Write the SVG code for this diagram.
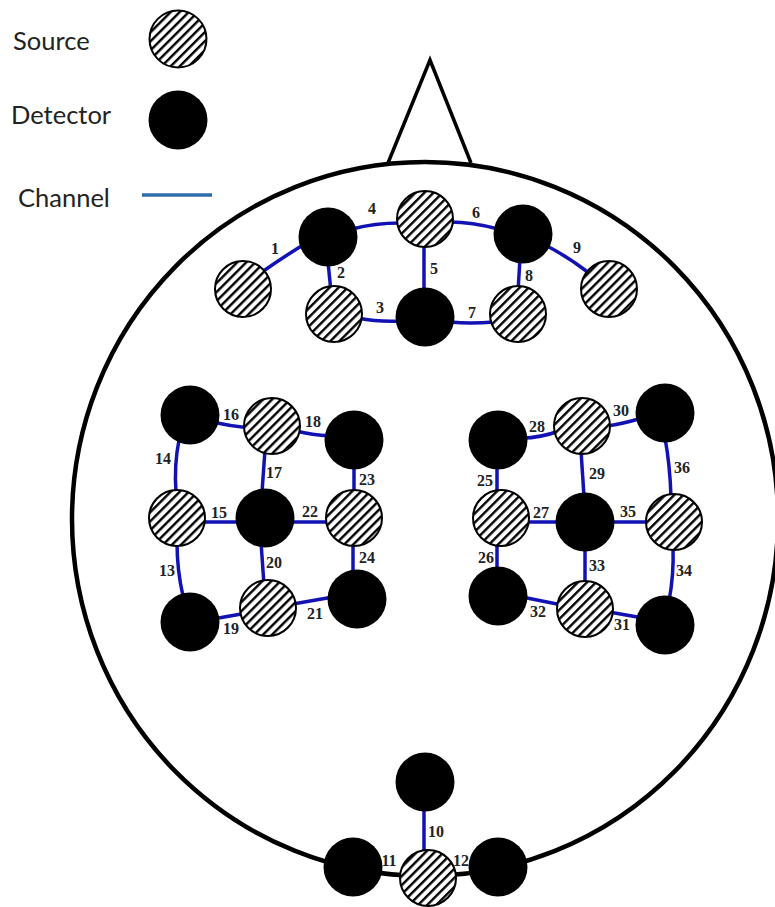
<svg xmlns="http://www.w3.org/2000/svg" width="775" height="907" viewBox="0 0 775 907">
<style>
.s{fill:url(#hatch);stroke:#000;stroke-width:2}
.d{fill:#000}
.c{fill:none;stroke:#1212b4;stroke-width:3.5}
.n{font:bold 16px "Liberation Serif",serif;fill:#222;text-anchor:middle}
.l{font:25.5px Lato,sans-serif;fill:#222}
.h{fill:none;stroke:#000;stroke-width:4.5}
.t{fill:none;stroke:#000;stroke-width:3.5}
</style>
<defs>
<pattern id="hatch" width="6.4" height="6.4" patternUnits="userSpaceOnUse" patternTransform="rotate(45)">
<rect width="6.4" height="6.4" fill="#fff"/>
<rect width="2.4" height="6.4" fill="#000"/>
</pattern>
</defs>
<rect width="775" height="907" fill="#fff"/>
<g id="head">
<ellipse class="h" cx="425" cy="519" rx="353" ry="357"/>
<path class="t" d="M388 163L430 60L471 163"/>
</g>
<g id="legend">
<text class="l" x="13" y="50">Source</text>
<text class="l" x="11" y="124">Detector</text>
<text class="l" x="18" y="207">Channel</text>
<circle class="s" cx="178" cy="39" r="28.5"/>
<circle class="d" cx="178" cy="120" r="29.5"/>
<line x1="142" y1="195" x2="212" y2="195" stroke="#2e6cab" stroke-width="3.5"/>
</g>
<g id="connectors">
<path class="c" d="M262 272Q282 258 303 245"/>
<path class="c" d="M328 262L331 292"/>
<path class="c" d="M358 318Q378 322 400 321"/>
<path class="c" d="M352 229Q375 223 400 223"/>
<path class="c" d="M424 240L424 295"/>
<path class="c" d="M450 222Q472 222 498 229"/>
<path class="c" d="M450 322Q470 324 494 322"/>
<path class="c" d="M520 258L518 292"/>
<path class="c" d="M545 245Q567 256 589 273"/>
<path class="c" d="M424 805L424 855"/>
<path class="c" d="M177 542Q177 570 183 596"/>
<path class="c" d="M179 440Q174 465 176 492"/>
<path class="c" d="M200 522L240 522"/>
<path class="c" d="M212 422Q230 426 250 428"/>
<path class="c" d="M265 450L262 492"/>
<path class="c" d="M296 431Q312 435 330 436"/>
<path class="c" d="M213 619L247 613"/>
<path class="c" d="M261 542L264 585"/>
<path class="c" d="M293 604L333 597"/>
<path class="c" d="M290 522L330 522"/>
<path class="c" d="M354 465L354 495"/>
<path class="c" d="M353 542L353 575"/>
<path class="c" d="M497 465L497 495"/>
<path class="c" d="M497 540L497 572"/>
<path class="c" d="M525 522L560 522"/>
<path class="c" d="M522 438Q540 438 559 431"/>
<path class="c" d="M581 450L584 497"/>
<path class="c" d="M607 426Q622 424 642 418"/>
<path class="c" d="M609 612L643 618"/>
<path class="c" d="M522 597L562 605"/>
<path class="c" d="M585 547L585 585"/>
<path class="c" d="M673 547Q674 575 669 601"/>
<path class="c" d="M610 522L650 522"/>
<path class="c" d="M665 438Q670 465 671 497"/>
</g>
<g id="nodes">
<circle id="s1" class="s" cx="243" cy="289" r="28"/>
<circle id="s2" class="s" cx="334" cy="314" r="28"/>
<circle id="s3" class="s" cx="425" cy="219" r="28"/>
<circle id="s4" class="s" cx="518" cy="314" r="28"/>
<circle id="s5" class="s" cx="609" cy="289" r="28"/>
<circle id="d1" class="d" cx="328" cy="237" r="29.5"/>
<circle id="d2" class="d" cx="523" cy="234" r="29.5"/>
<circle id="d3" class="d" cx="425" cy="317" r="29.5"/>
<circle id="d4" class="d" cx="190" cy="415" r="29.5"/>
<circle id="d5" class="d" cx="354" cy="440" r="29.5"/>
<circle id="d6" class="d" cx="265" cy="518" r="29.5"/>
<circle id="d7" class="d" cx="190" cy="622" r="29.5"/>
<circle id="d8" class="d" cx="357" cy="599" r="29.5"/>
<circle id="s6" class="s" cx="272" cy="426" r="28"/>
<circle id="s7" class="s" cx="177" cy="518" r="28"/>
<circle id="s8" class="s" cx="354" cy="518" r="28"/>
<circle id="s9" class="s" cx="268" cy="608" r="28"/>
<circle id="d9" class="d" cx="498" cy="440" r="29.5"/>
<circle id="d10" class="d" cx="665" cy="413" r="29.5"/>
<circle id="d11" class="d" cx="585" cy="522" r="29.5"/>
<circle id="d12" class="d" cx="498" cy="596" r="29.5"/>
<circle id="d13" class="d" cx="665" cy="625" r="29.5"/>
<circle id="s10" class="s" cx="582" cy="426" r="28"/>
<circle id="s11" class="s" cx="501" cy="518" r="28"/>
<circle id="s12" class="s" cx="674" cy="522" r="28"/>
<circle id="s13" class="s" cx="585" cy="609" r="28"/>
<circle id="d14" class="d" cx="425" cy="782" r="29.5"/>
<circle id="d15" class="d" cx="353" cy="867" r="29.5"/>
<circle id="d16" class="d" cx="498" cy="867" r="29.5"/>
<circle id="s14" class="s" cx="428" cy="878" r="28"/>
</g>
<g id="labels">
<text class="n" x="275" y="254">1</text>
<text class="n" x="341" y="278">2</text>
<text class="n" x="380" y="313">3</text>
<text class="n" x="372" y="214">4</text>
<text class="n" x="434" y="274">5</text>
<text class="n" x="476" y="218">6</text>
<text class="n" x="472" y="318">7</text>
<text class="n" x="529" y="281">8</text>
<text class="n" x="577" y="253">9</text>
<text class="n" x="436" y="837">10</text>
<text class="n" x="389" y="866">11</text>
<text class="n" x="461" y="866">12</text>
<text class="n" x="167" y="576">13</text>
<text class="n" x="163" y="464">14</text>
<text class="n" x="219" y="518">15</text>
<text class="n" x="231" y="420">16</text>
<text class="n" x="274" y="478">17</text>
<text class="n" x="313" y="427">18</text>
<text class="n" x="231" y="634">19</text>
<text class="n" x="274" y="568">20</text>
<text class="n" x="315" y="619">21</text>
<text class="n" x="310" y="517">22</text>
<text class="n" x="367" y="485">23</text>
<text class="n" x="367" y="563">24</text>
<text class="n" x="485" y="486">25</text>
<text class="n" x="486" y="563">26</text>
<text class="n" x="541" y="518">27</text>
<text class="n" x="537" y="432">28</text>
<text class="n" x="597" y="479">29</text>
<text class="n" x="621" y="416">30</text>
<text class="n" x="622" y="630">31</text>
<text class="n" x="538" y="617">32</text>
<text class="n" x="597" y="571">33</text>
<text class="n" x="684" y="576">34</text>
<text class="n" x="628" y="517">35</text>
<text class="n" x="682" y="473">36</text>
</g>
</svg>
